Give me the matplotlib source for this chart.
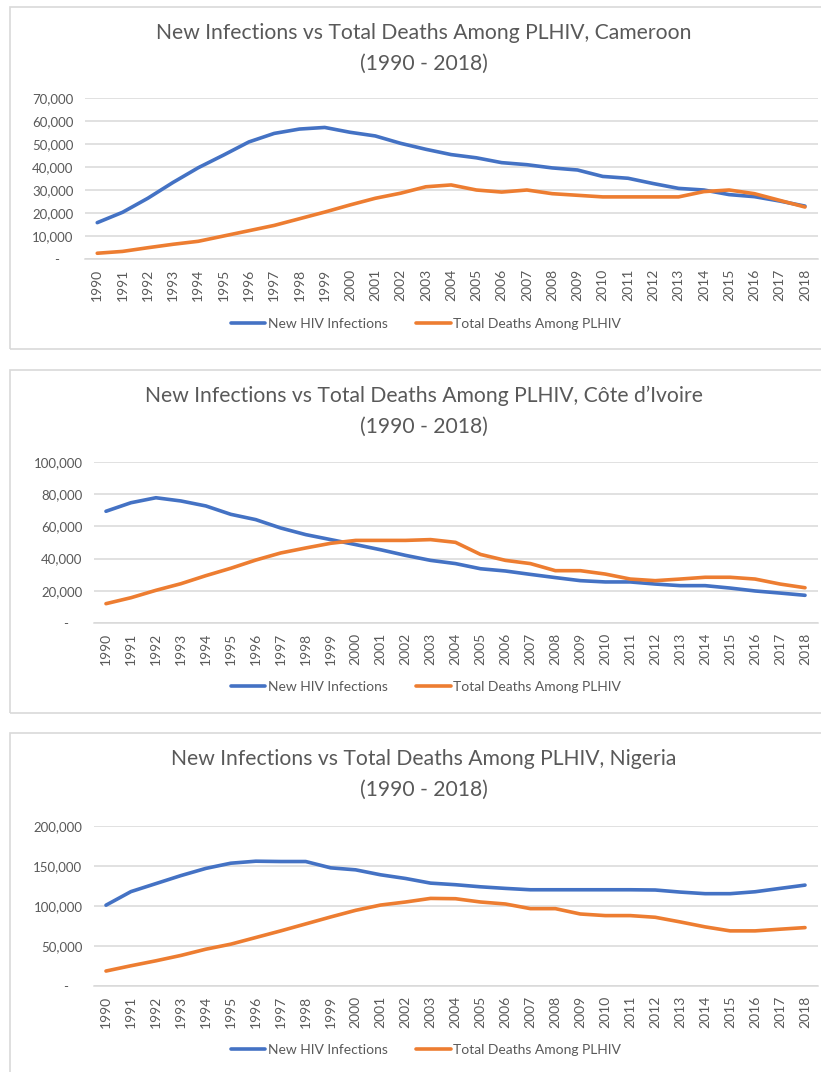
import numpy as np
import matplotlib
matplotlib.use('Agg')
import matplotlib.pyplot as plt
from matplotlib.patches import Rectangle
from matplotlib.ticker import FuncFormatter, MultipleLocator

plt.rcParams['font.family'] = ['Lato', 'DejaVu Sans']

years = list(range(1990, 2019))

# Cameroon
cmr_new = [15800, 20300, 26400, 33300, 39700, 45200, 50900, 54600, 56500, 57200,
           55100, 53500, 50300, 47700, 45400, 44000, 41900, 41000, 39600, 38700,
           35900, 35100, 32800, 30700, 30000, 28000, 27100, 25200, 23000]
cmr_deaths = [2500, 3300, 4900, 6400, 7700, 10000, 12300, 14600, 17500, 20400,
              23500, 26400, 28600, 31400, 32200, 30000, 29100, 30000, 28400, 27700,
              27000, 27000, 27000, 27000, 29300, 30000, 28400, 25500, 22600]

# Cote d'Ivoire
civ_new = [69400, 74700, 77800, 75800, 72700, 67500, 64200, 59000, 54900, 51800,
           48700, 45500, 42000, 38900, 36900, 33700, 32300, 30200, 28200, 26300,
           25500, 25500, 24200, 23200, 23200, 21700, 19900, 18600, 17200]
civ_deaths = [12000, 15700, 20300, 24400, 29400, 34000, 39100, 43500, 46600, 49500,
              51300, 51300, 51300, 51800, 50100, 42600, 38900, 36900, 32500, 32500,
              30400, 27300, 26300, 27300, 28400, 28400, 27300, 24200, 21900]

# Nigeria
nga_new = [101000, 118000, 128000, 138000, 147000, 153500, 156000, 155600, 155600, 147700,
           145200, 139000, 134400, 128600, 126600, 124000, 122000, 120300, 120300, 120300,
           120300, 120300, 120000, 117400, 115400, 115400, 117800, 122000, 126100]
nga_deaths = [18700, 25300, 31500, 38200, 46000, 52300, 60600, 68900, 77600, 86300,
              94600, 101200, 105000, 109500, 109100, 105000, 102500, 96700, 96700, 90000,
              88000, 88000, 85900, 80100, 73900, 68900, 68900, 71000, 73000]

W, H = 821, 1072
BLUE = '#4472C4'
ORANGE = '#ED7D31'
GREY_TXT = '#595959'
GRID = '#D9D9D9'

fig = plt.figure(figsize=(W / 100, H / 100), dpi=100)


def fx(px):
    return px / W


def fy(py):
    return 1 - py / H


def fmt(v, pos):
    if v == 0:
        return '-    '
    return f'{v:,.0f}'


panels = [
    # title, new, deaths, ymax, step, box (top, bottom), axes (left, right, top, bottom), title y
    ('New Infections vs Total Deaths Among PLHIV, Cameroon', cmr_new, cmr_deaths,
     70000, 10000, (7, 349), (84.6, 817.6, 98, 259), 33),
    ('New Infections vs Total Deaths Among PLHIV, Côte d\u2019Ivoire', civ_new, civ_deaths,
     100000, 20000, (370, 713), (93.5, 817.5, 462, 623), 396),
    ('New Infections vs Total Deaths Among PLHIV, Nigeria', nga_new, nga_deaths,
     200000, 50000, (733, 1100), (93.5, 817.5, 826, 986), 759),
]

for title, new, deaths, ymax, step, box, ax_px, ty in panels:
    # chart border
    fig.patches.append(Rectangle((fx(10), fy(box[1])), fx(900), (box[1] - box[0]) / H,
                                 transform=fig.transFigure, fill=False,
                                 edgecolor=GRID, linewidth=1.2))
    l, r, t, b = ax_px
    ax = fig.add_axes([fx(l), fy(b), fx(r - l), (b - t) / H])
    x = np.arange(len(years))
    ax.plot(x, new, color=BLUE, linewidth=2.6, solid_capstyle='round', label='New HIV Infections')
    ax.plot(x, deaths, color=ORANGE, linewidth=2.6, solid_capstyle='round',
            label='Total Deaths Among PLHIV')
    ax.set_xlim(-0.5, len(years) - 0.5)
    ax.set_ylim(0, ymax)
    ax.yaxis.set_major_locator(MultipleLocator(step))
    ax.yaxis.set_major_formatter(FuncFormatter(fmt))
    ax.set_xticks(x)
    ax.set_xticklabels([str(y) for y in years], rotation=90)
    ax.grid(axis='y', color=GRID, linewidth=1.1)
    ax.set_axisbelow(True)
    for s in ['top', 'left', 'right']:
        ax.spines[s].set_visible(False)
    ax.spines['bottom'].set_color(GRID)
    ax.spines['bottom'].set_linewidth(1.1)
    ax.tick_params(axis='both', length=0, colors=GREY_TXT, labelsize=9.5)
    ax.tick_params(axis='x', labelsize=10)
    ax.tick_params(axis='y', pad=8)
    ax.tick_params(axis='x', pad=7)
    ax.set_facecolor('none')

    fig.text(fx(424), fy(ty), title, ha='center', va='center', fontsize=15.2, color=GREY_TXT)
    fig.text(fx(424), fy(ty + 31), '(1990 - 2018)', ha='center', va='center',
             fontsize=15.2, color=GREY_TXT)

    ax.legend(loc='center', bbox_to_anchor=(fx(426), fy(ty + 291)),
              bbox_transform=fig.transFigure, ncol=2, frameon=False, fontsize=10,
              labelcolor=GREY_TXT, handlelength=2.5, handletextpad=0.2, columnspacing=2.0)

fig.savefig('out.png', dpi=100, facecolor='white')
